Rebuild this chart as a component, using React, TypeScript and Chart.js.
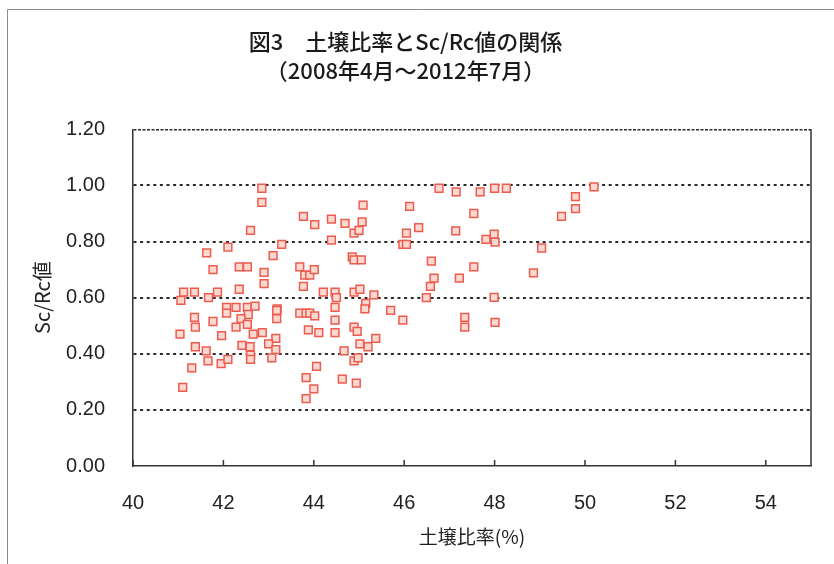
import React, { useEffect, useRef } from 'react';
import { Chart, registerables } from 'chart.js';

Chart.register(...registerables);

const titleLines = ['図3　土壌比率とSc/Rc値の関係', '（2008年4月～2012年7月）'];
const xAxisTitle = '土壌比率(%)';
const yAxisTitle = 'Sc/Rc値';

const xTicks = [40, 42, 44, 46, 48, 50, 52, 54];
const yTicks = [0, 0.2, 0.4, 0.6, 0.8, 1.0, 1.2];

// 土壌比率 (%)
const soilRatio = [
  42.85, 42.85, 43.77, 44.02, 42.6, 43.29, 42.1, 41.63, 43.1, 41.77,
  42.35, 42.53, 42.9, 42.9, 43.69, 43.8, 43.91, 44.01, 43.77, 42.35,
  41.12, 41.36, 41.06, 41.67, 41.87, 44.21, 42.07, 42.28, 42.53, 42.7,
  42.07, 42.55, 43.19, 43.18, 43.18, 43.69, 43.83, 43.91, 44.02, 41.36,
  42.39, 41.77, 41.38, 42.28, 42.53, 41.04, 41.96, 42.66, 42.86, 43.88,
  44.11, 43.16, 43.0, 43.16, 41.38, 42.41, 42.59, 42.6, 42.6, 41.62,
  41.66, 41.95, 42.1, 43.07, 41.3, 44.06, 43.83, 44.0, 43.83, 41.1,
  46.77, 47.15, 45.09, 46.12, 44.39, 44.69, 45.07, 44.89, 45.0, 46.05,
  46.32, 47.54, 47.14, 44.39, 45.97, 46.05, 44.85, 44.89, 45.05, 46.6,
  47.54, 46.66, 46.58, 47.22, 44.47, 44.5, 44.89, 45.02, 45.33, 46.49,
  44.47, 45.15, 45.13, 45.7, 44.47, 45.97, 44.89, 44.96, 44.47, 45.02,
  45.2, 45.37, 44.67, 44.89, 44.98, 44.63, 44.94, 47.34, 47.34, 47.68,
  48.0, 48.26, 50.2, 49.79, 49.79, 49.48, 47.99, 47.81, 48.01, 49.04,
  48.86, 47.99, 48.01,
];

// Sc/Rc値
const scRcValue = [
  0.99, 0.94, 0.89, 0.86, 0.84, 0.79, 0.78, 0.76, 0.75, 0.70,
  0.71, 0.71, 0.69, 0.65, 0.71, 0.68, 0.68, 0.70, 0.64, 0.63,
  0.62, 0.62, 0.59, 0.60, 0.62, 0.62, 0.565, 0.565, 0.565, 0.57,
  0.545, 0.54, 0.56, 0.555, 0.525, 0.545, 0.545, 0.545, 0.535, 0.53,
  0.525, 0.515, 0.495, 0.495, 0.505, 0.47, 0.465, 0.47, 0.475, 0.485,
  0.475, 0.455, 0.435, 0.415, 0.425, 0.43, 0.425, 0.395, 0.38, 0.41,
  0.375, 0.365, 0.38, 0.385, 0.35, 0.355, 0.315, 0.275, 0.24, 0.28,
  0.99, 0.977, 0.93, 0.925, 0.88, 0.865, 0.87, 0.83, 0.84, 0.83,
  0.85, 0.90, 0.838, 0.805, 0.79, 0.79, 0.745, 0.735, 0.735, 0.73,
  0.71, 0.67, 0.64, 0.67, 0.62, 0.60, 0.62, 0.63, 0.61, 0.60,
  0.565, 0.58, 0.56, 0.555, 0.52, 0.52, 0.495, 0.48, 0.475, 0.435,
  0.425, 0.455, 0.41, 0.375, 0.385, 0.31, 0.295, 0.53, 0.495, 0.977,
  0.99, 0.99, 0.995, 0.96, 0.917, 0.89, 0.826, 0.808, 0.798, 0.777,
  0.688, 0.601, 0.512,
];

const W = 834;
const H = 564;

const framePlugin = {
  id: 'framePlugin',
  beforeDraw(chart: any) {
    const { ctx } = chart;
    ctx.save();
    ctx.fillStyle = '#ffffff';
    ctx.fillRect(0, 0, chart.width, chart.height);
    ctx.strokeStyle = '#8a8a8a';
    ctx.lineWidth = 1;
    ctx.beginPath();
    ctx.moveTo(7.5, chart.height);
    ctx.lineTo(7.5, 9.5);
    ctx.lineTo(chart.width, 9.5);
    ctx.stroke();
    ctx.restore();
  },
  afterDraw(chart: any) {
    const { ctx, chartArea } = chart;
    const xs = chart.scales.x;
    ctx.save();
    ctx.strokeStyle = '#333';
    ctx.lineWidth = 1.5;
    ctx.beginPath();
    ctx.moveTo(chartArea.right, chartArea.top);
    ctx.lineTo(chartArea.right, chartArea.bottom);
    ctx.stroke();
    ctx.beginPath();
    xTicks.forEach((v) => {
      const px = xs.getPixelForValue(v);
      ctx.moveTo(px, chartArea.bottom);
      ctx.lineTo(px, chartArea.bottom - 6);
    });
    ctx.stroke();
    ctx.restore();
  },
};

export default function App() {
  const ref = useRef<HTMLCanvasElement | null>(null);

  useEffect(() => {
    document.body.style.margin = '0';
    document.body.style.overflow = 'hidden';
    const canvas = ref.current;
    if (!canvas) return;
    const points = soilRatio.map((x, i) => ({ x, y: scRcValue[i] }));
    const tickFont = { family: "'Liberation Sans', Arial, sans-serif", size: 20 };
    const chart = new Chart(canvas, {
      type: 'scatter',
      data: {
        datasets: [
          {
            label: 'Sc/Rc',
            data: points,
            pointStyle: 'rect',
            pointRadius: 5.5,
            borderWidth: 1.5,
            borderColor: '#ee5b4c',
            backgroundColor: '#fbd8d1',
          },
        ],
      },
      options: {
        responsive: false,
        animation: false,
        devicePixelRatio: 1,
        layout: { padding: { left: 0, right: 23, top: 0, bottom: 0 } },
        plugins: {
          legend: { display: false },
          tooltip: { enabled: false },
          title: {
            display: true,
            text: titleLines,
            color: '#1a1a1a',
            font: { family: "'Noto Sans CJK JP', sans-serif", size: 22, weight: '500', lineHeight: 1.28 },
            padding: { top: 28, bottom: 45 },
          },
        },
        scales: {
          x: {
            type: 'linear',
            min: 40,
            max: 55,
            afterBuildTicks: (scale: any) => {
              scale.ticks = xTicks.map((v) => ({ value: v }));
            },
            afterFit: (scale: any) => {
              scale.height = H - 466;
            },
            grid: { display: false, drawTicks: false },
            border: { display: true, color: '#333', width: 1.5 },
            ticks: {
              color: '#222',
              font: tickFont,
              padding: 25,
              maxRotation: 0,
              callback: (v: any) => String(v),
            },
            title: {
              display: true,
              text: xAxisTitle,
              color: '#222',
              font: { family: "'Noto Sans CJK JP', sans-serif", size: 19, weight: 'normal' },
              padding: { top: 0, bottom: 16 },
            },
          },
          y: {
            type: 'linear',
            min: 0,
            max: 1.2,
            afterBuildTicks: (scale: any) => {
              scale.ticks = yTicks.map((v) => ({ value: v }));
            },
            afterFit: (scale: any) => {
              scale.width = 133;
            },
            grid: {
              drawTicks: false,
              color: (ctx: any) => (ctx.tick && ctx.tick.value === 0 ? 'rgba(0,0,0,0)' : '#2a2a2a'),
              lineWidth: (ctx: any) => (ctx.tick && ctx.tick.value >= 1.19 ? 1.5 : 2),
            },
            border: {
              display: true,
              color: '#333',
              width: 1.5,
              dash: (ctx: any) => (ctx.tick && ctx.tick.value >= 1.19 ? [3, 1.5] : [3, 3.6]),
            },
            ticks: {
              color: '#222',
              font: tickFont,
              padding: 28,
              callback: (v: any) => Number(v).toFixed(2),
            },
            title: {
              display: true,
              text: yAxisTitle,
              color: '#222',
              font: { family: "'Noto Sans CJK JP', sans-serif", size: 20, weight: 'normal' },
              padding: { top: 30, bottom: 0 },
            },
          },
        },
      },
      plugins: [framePlugin],
    } as any);
    return () => chart.destroy();
  }, []);

  return (
    <div style={{ width: W, height: H, overflow: 'hidden' }}>
      <canvas ref={ref} width={W} height={H} style={{ display: 'block', width: W, height: H }} />
    </div>
  );
}
